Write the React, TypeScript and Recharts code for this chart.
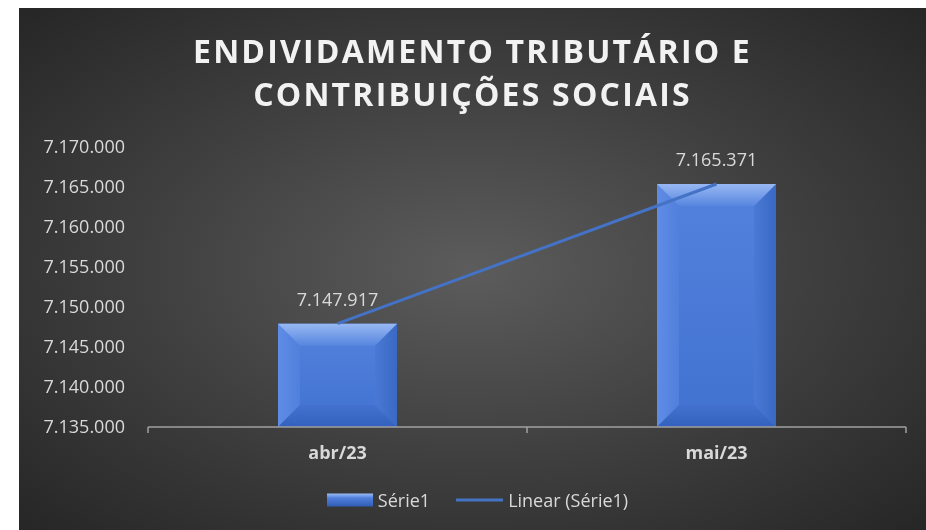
import { Bar, ComposedChart, LabelList, Legend, Line, XAxis, YAxis } from "recharts";

const categories = ["abr/23", "mai/23"];
const serie1 = [7147917, 7165371];
const yTicks = [7135000, 7140000, 7145000, 7150000, 7155000, 7160000, 7165000, 7170000];

const COLORS = { text: "#d9d9d9", title: "#f2f2f2", axis: "#a0a0a0", trend: "#4472c4" };
const FONT = "'Open Sans', 'Noto Sans', sans-serif";

// linear trendline (least squares) over the series
function linearFit(values: number[]) {
  const n = values.length;
  const xs = values.map((_, i) => i + 1);
  const mx = xs.reduce((a, b) => a + b, 0) / n;
  const my = values.reduce((a, b) => a + b, 0) / n;
  let num = 0;
  let den = 0;
  xs.forEach((x, i) => {
    num += (x - mx) * (values[i] - my);
    den += (x - mx) * (x - mx);
  });
  const slope = den === 0 ? 0 : num / den;
  return xs.map((x) => my + slope * (x - mx));
}

const trend = linearFit(serie1);
const data = categories.map((name, i) => ({ name, value: serie1[i], trend: trend[i] }));

const fmt = (v: number) => String(Math.round(v)).replace(/\B(?=(\d{3})+(?!\d))/g, ".");

function BevelBar(props: any) {
  const { x, y, width: w, height: h, index } = props;
  if (!w || !h) return null;
  const d = Math.min(22, w / 2, h / 2);
  const id = `bv${index}`;
  const pts = (arr: number[][]) => arr.map((p) => p.join(",")).join(" ");
  return (
    <g>
      <defs>
        <linearGradient id={`${id}c`} x1="0" y1="0" x2="0" y2="1">
          <stop offset="0" stopColor="#5282dd" />
          <stop offset="1" stopColor="#4272d0" />
        </linearGradient>
        <linearGradient id={`${id}t`} x1="0" y1="0" x2="0" y2="1">
          <stop offset="0" stopColor="#98b8f3" />
          <stop offset="1" stopColor="#5786df" />
        </linearGradient>
        <linearGradient id={`${id}b`} x1="0" y1="0" x2="0" y2="1">
          <stop offset="0" stopColor="#4271cf" />
          <stop offset="1" stopColor="#3361bd" />
        </linearGradient>
        <linearGradient id={`${id}l`} x1="0" y1="0" x2="1" y2="0">
          <stop offset="0" stopColor="#5f8ce5" />
          <stop offset="1" stopColor="#5080dc" />
        </linearGradient>
        <linearGradient id={`${id}r`} x1="0" y1="0" x2="1" y2="0">
          <stop offset="0" stopColor="#4a79d5" />
          <stop offset="1" stopColor="#3a69c4" />
        </linearGradient>
      </defs>
      <rect x={x} y={y} width={w} height={h} fill={`url(#${id}c)`} />
      <polygon points={pts([[x, y], [x + d, y + d], [x + d, y + h - d], [x, y + h]])} fill={`url(#${id}l)`} />
      <polygon points={pts([[x + w, y], [x + w - d, y + d], [x + w - d, y + h - d], [x + w, y + h]])} fill={`url(#${id}r)`} />
      <polygon points={pts([[x, y + h], [x + d, y + h - d], [x + w - d, y + h - d], [x + w, y + h]])} fill={`url(#${id}b)`} />
      <polygon points={pts([[x, y], [x + w, y], [x + w - d, y + d], [x + d, y + d]])} fill={`url(#${id}t)`} />
    </g>
  );
}

// category label plus Excel-style tick marks on the band edges
function CatTick(props: any) {
  const { x, y, payload, index, visibleTicksCount } = props;
  const half = payload?.offset ?? 0;
  const isLast = index === (visibleTicksCount ?? 0) - 1;
  return (
    <g>
      {half > 0 && <line x1={x - half} y1={y} x2={x - half} y2={y + 6} stroke={COLORS.axis} strokeWidth={1.5} />}
      {half > 0 && isLast && (
        <line x1={x + half} y1={y} x2={x + half} y2={y + 6} stroke={COLORS.axis} strokeWidth={1.5} />
      )}
      <text x={x} y={y + 32} textAnchor="middle" fill={COLORS.text} fontSize={18} fontWeight={700} fontFamily={FONT}>
        {payload.value}
      </text>
    </g>
  );
}

function LegendContent() {
  return (
    <div
      style={{
        height: 30,
        display: "flex",
        justifyContent: "center",
        alignItems: "center",
        gap: 5,
        color: COLORS.text,
        fontFamily: FONT,
        fontSize: 18,
        paddingLeft: 30,
      }}
    >
      <svg width={46} height={14}>
        <defs>
          <linearGradient id="lgsw" x1="0" y1="0" x2="0" y2="1">
            <stop offset="0" stopColor="#9dbcf5" />
            <stop offset="0.35" stopColor="#4f7fdc" />
            <stop offset="1" stopColor="#2f5cb5" />
          </linearGradient>
        </defs>
        <rect x={0} y={0.5} width={46} height={13} fill="url(#lgsw)" />
      </svg>
      <span style={{ marginRight: 21 }}>Série1</span>
      <svg width={47} height={14}>
        <line x1={0} y1={7} x2={47} y2={7} stroke={COLORS.trend} strokeWidth={3} />
      </svg>
      <span>Linear (Série1)</span>
    </div>
  );
}

export default function App() {
  return (
    <div
      style={{
        position: "fixed",
        top: 8,
        left: 19,
        width: 907,
        height: 522,
        background: "radial-gradient(ellipse farthest-corner at 50% 50%, #5c5c5c 0%, #404040 50%, #262626 100%)",
        fontFamily: FONT,
      }}
    >
      <div
        style={{
          position: "absolute",
          top: 21,
          left: 0,
          width: "100%",
          textAlign: "center",
          color: COLORS.title,
          fontWeight: 700,
          fontSize: 32,
          lineHeight: "43px",
          letterSpacing: 2.2,
        }}
      >
        ENDIVIDAMENTO TRIBUTÁRIO E
        <br />
        CONTRIBUIÇÕES SOCIAIS
      </div>
      <ComposedChart
        width={907}
        height={522}
        data={data}
        margin={{ top: 139, right: 20, bottom: 33, left: 0 }}
        style={{ position: "absolute", top: 0, left: 0 }}
      >
        <XAxis
          dataKey="name"
          height={40}
          tickLine={false}
          tickSize={0}
          tickMargin={0}
          axisLine={{ stroke: COLORS.axis, strokeWidth: 1.5 }}
          tick={<CatTick />}
          interval={0}
        />
        <YAxis
          domain={[7135000, 7170000]}
          ticks={yTicks}
          width={129}
          axisLine={false}
          tickLine={false}
          tickMargin={17}
          tickFormatter={fmt}
          tick={{ fill: COLORS.text, fontSize: 18, fontFamily: FONT }}
          allowDataOverflow
        />
        <Bar dataKey="value" barSize={119} shape={<BevelBar />} isAnimationActive={false}>
          <LabelList
            dataKey="value"
            position="top"
            offset={18}
            formatter={(v: any) => fmt(Number(v))}
            fill={COLORS.text}
            fontSize={18}
            fontFamily={FONT}
          />
        </Bar>
        <Line
          dataKey="trend"
          stroke={COLORS.trend}
          strokeWidth={3}
          dot={false}
          activeDot={false}
          isAnimationActive={false}
        />
        <Legend verticalAlign="bottom" content={<LegendContent />} wrapperStyle={{ bottom: 15 }} />
      </ComposedChart>
    </div>
  );
}
